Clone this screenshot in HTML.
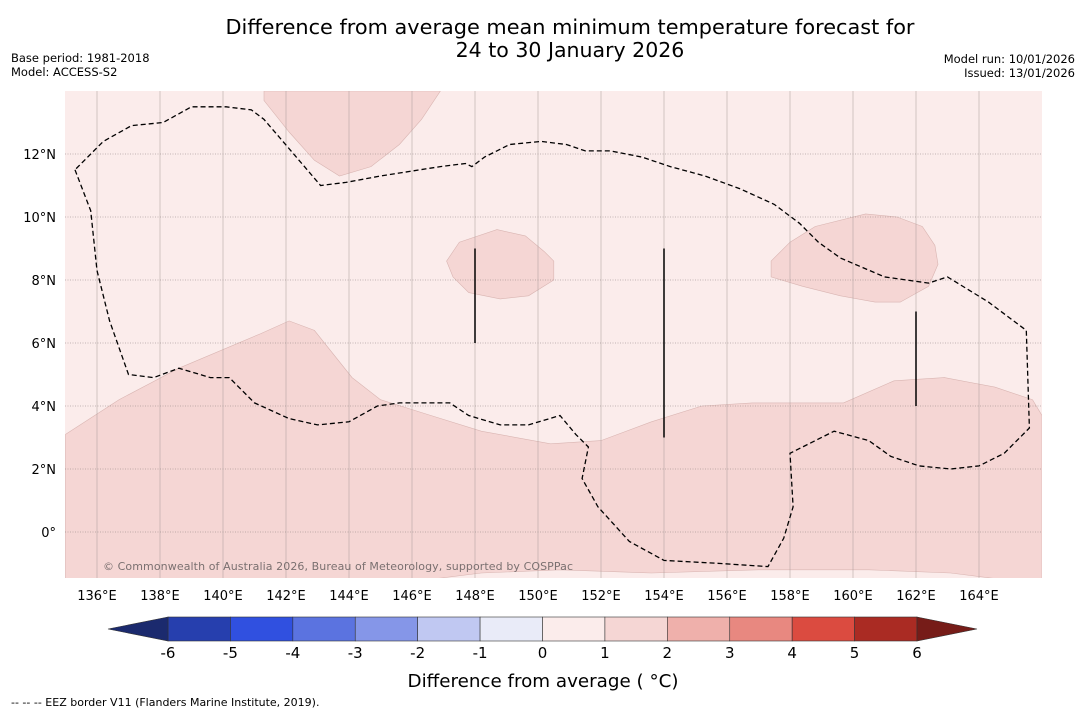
<!DOCTYPE html>
<html><head><meta charset="utf-8"><style>
body{margin:0;background:#fff;width:1085px;height:713px;overflow:hidden;font-family:"DejaVu Sans","Liberation Sans",sans-serif}
svg{position:absolute;left:0;top:0}
</style></head><body>
<svg id="c" width="1085" height="713" font-family="DejaVu Sans, Liberation Sans, sans-serif"></svg>
<script>
const lonTicks=[136,138,140,142,144,146,148,150,152,154,156,158,160,162,164];
const latTicks=[0,2,4,6,8,10,12];
const cbLevels=[-6,-5,-4,-3,-2,-1,0,1,2,3,4,5,6];
const cbColors=["#263fae","#3050e0","#5b73e0","#8596e8","#c0c8f2","#e9ebf8","#fbeceb","#f5d6d4","#efb0ab","#e88880","#db4b40","#aa2b23"];
const lowArrowColor="#1b2a6e", highArrowColor="#761c18";
const southRegion=[[135,3.1],[136.7,4.2],[138.6,5.2],[141.2,6.3],[142.1,6.7],[142.9,6.4],[144.1,4.9],[145,4.2],[146.6,3.7],[148.2,3.2],[150.4,2.8],[152,2.9],[153.6,3.5],[155.2,4],[156.8,4.1],[159.7,4.1],[161.3,4.8],[162.9,4.9],[164.5,4.6],[165.7,4.2],[166,3.7],[166,-1.5],[164.7,-1.5],[163.1,-1.3],[160.5,-1.2],[157,-1.2],[153.6,-1.3],[150.7,-1.2],[148.2,-1.3],[146.6,-1.5],[135,-1.5]];
const northRegion=[[141.3,14],[141.3,13.7],[142.1,12.7],[142.9,11.8],[143.7,11.3],[144.7,11.6],[145.6,12.3],[146.3,13.1],[146.9,14]];
const blobA=[[147.1,8.6],[147.5,9.2],[148.7,9.6],[149.6,9.4],[150.2,8.9],[150.5,8.6],[150.5,8],[149.7,7.5],[148.8,7.4],[147.8,7.6],[147.3,8.1]];
const blobB=[[157.4,8.6],[158,9.2],[158.8,9.7],[160.4,10.1],[161.4,10],[162.2,9.7],[162.6,9.1],[162.7,8.5],[162.4,7.8],[161.5,7.3],[160.7,7.3],[159.6,7.5],[158.4,7.8],[157.4,8.1]];
const eez=[[135.3,11.5],[135.8,10.2],[136,8.3],[136.4,6.7],[137,5],[137.8,4.9],[138.6,5.2],[139.6,4.9],[140.2,4.9],[141,4.1],[142.1,3.6],[143,3.4],[144,3.5],[144.9,4],[145.6,4.1],[147.2,4.1],[147.8,3.7],[148.8,3.4],[149.7,3.4],[150.7,3.7],[151.2,3.1],[151.6,2.7],[151.4,1.7],[151.9,0.8],[152.9,-0.3],[154,-0.9],[155.8,-1],[157.3,-1.1],[157.8,-0.2],[158.1,0.8],[158,2.5],[158.6,2.8],[159.4,3.2],[160.5,2.9],[161.2,2.4],[162.1,2.1],[163.1,2],[164,2.1],[164.8,2.5],[165.6,3.3],[165.5,6.4],[164.3,7.3],[163,8.1],[162.4,7.9],[161,8.1],[159.6,8.7],[158.9,9.2],[158.3,9.8],[157.5,10.4],[156.4,10.9],[155.3,11.3],[154.2,11.6],[153.3,11.9],[152.3,12.1],[151.5,12.1],[150.9,12.3],[150.1,12.4],[149.1,12.3],[148.3,11.9],[147.9,11.6],[147.7,11.7],[146.9,11.6],[145,11.3],[143.9,11.1],[143.1,11],[142.5,11.7],[141.9,12.4],[141.3,13.1],[140.9,13.4],[140.1,13.5],[139,13.5],[138.1,13],[137.1,12.9],[136.2,12.4],[135.3,11.5]];
const sticks=[[148,9,6],[154,9,3],[162,7,4]];
const S="http://www.w3.org/2000/svg",svg=document.getElementById('c');
function el(t,a,p){const e=document.createElementNS(S,t);for(const k in a)e.setAttribute(k,a[k]);(p||svg).appendChild(e);return e;}
const X0=65.5,Y0=91,PX=31.5;
const xs=l=>X0+(l-135)*PX, ys=l=>Y0+(14-l)*PX;
const pts=a=>a.map(p=>xs(p[0]).toFixed(1)+','+ys(p[1]).toFixed(1)).join(' ');
const defs=el('defs',{});const cp=el('clipPath',{id:'mc'},defs);el('rect',{x:65,y:91,width:977,height:487},cp);
let r=el('rect',{x:65,y:91,width:977,height:487,fill:'#fbeceb'});

const g=el('g',{'clip-path':'url(#mc)'});
[[southRegion,'south-anomaly-region'],[northRegion,'north-anomaly-region'],[blobA,'anomaly-blob-west'],[blobB,'anomaly-blob-east']].forEach(([d,n])=>{
 const p=el('polygon',{points:pts(d),fill:'#f5d6d4',stroke:'#d9b5b2','stroke-width':0.6},g);
 });
lonTicks.forEach(l=>{const ln=el('line',{x1:xs(l),x2:xs(l),y1:91,y2:578,stroke:'#a89a99','stroke-width':0.5},g);
 });
latTicks.forEach(l=>{const ln=el('line',{x1:65,x2:1042,y1:ys(l),y2:ys(l),stroke:'#8a7f7e','stroke-width':0.6,'stroke-dasharray':'1,1.5'},g);
 });
const ez=el('polyline',{points:pts(eez),fill:'none',stroke:'#000','stroke-width':1.3,'stroke-dasharray':'5,3'},g);

sticks.forEach(s=>{const ln=el('line',{x1:xs(s[0]),x2:xs(s[0]),y1:ys(s[1]),y2:ys(s[2]),stroke:'#000','stroke-width':1.5},g);
 });
let t=el('text',{x:103,y:570,'font-size':11,'textLength':470,fill:'#7a7070'},g);t.textContent='© Commonwealth of Australia 2026, Bureau of Meteorology, supported by COSPPac';

lonTicks.forEach(l=>{const tx=el('text',{x:xs(l),y:600,'font-size':13,'text-anchor':'middle',fill:'#000'});tx.textContent=l+'°E';
 });
latTicks.forEach(l=>{const tx=el('text',{x:56,y:ys(l)+5,'font-size':13,'text-anchor':'end',fill:'#000'});tx.textContent=l===0?'0°':l+'°N';
 });
const cbx=v=>168+(v+6)*(917-168)/12, cy0=617, cy1=641;
cbColors.forEach((c,i)=>{const b=el('rect',{x:cbx(cbLevels[i]),y:cy0,width:cbx(cbLevels[i+1])-cbx(cbLevels[i]),height:cy1-cy0,fill:c,stroke:'#333','stroke-width':0.6});
 });
let a=el('polygon',{points:`${cbx(-6)},${cy0} 108,629 ${cbx(-6)},${cy1}`,fill:lowArrowColor,stroke:'#333','stroke-width':0.6});

a=el('polygon',{points:`${cbx(6)},${cy0} 977,629 ${cbx(6)},${cy1}`,fill:highArrowColor,stroke:'#333','stroke-width':0.6});

cbLevels.forEach(v=>{const tx=el('text',{x:cbx(v),y:658,'font-size':15,'text-anchor':'middle',fill:'#000'});tx.textContent=v;
 });
function txt(x,y,s,fs,anc,name,len){const at={x:x,y:y,'font-size':fs,'text-anchor':anc,fill:'#000','xml:space':'preserve'};if(len){at.textLength=len;at.lengthAdjust='spacingAndGlyphs';}
 const tx=el('text',at);tx.textContent=s;
 }
txt(543,687,'Difference from average ( °C)',18,'middle','colorbar-title',271);
txt(570,34,'Difference from average mean minimum temperature forecast for',20.5,'middle','chart-title-line1',689);
txt(570,57,'24 to 30 January 2026',20.5,'middle','chart-title-line2');
txt(11,62,'Base period: 1981-2018',11.5,'start','base-period-label');
txt(11,76,'Model: ACCESS-S2',11.5,'start','model-label');
txt(1075,63,'Model run: 10/01/2026',11.5,'end','model-run-label');
txt(1075,77,'Issued: 13/01/2026',11.5,'end','issued-label');
txt(11,706,'--  --  -- EEZ border V11 (Flanders Marine Institute, 2019).',11,'start','eez-legend');
</script>
</body></html>
